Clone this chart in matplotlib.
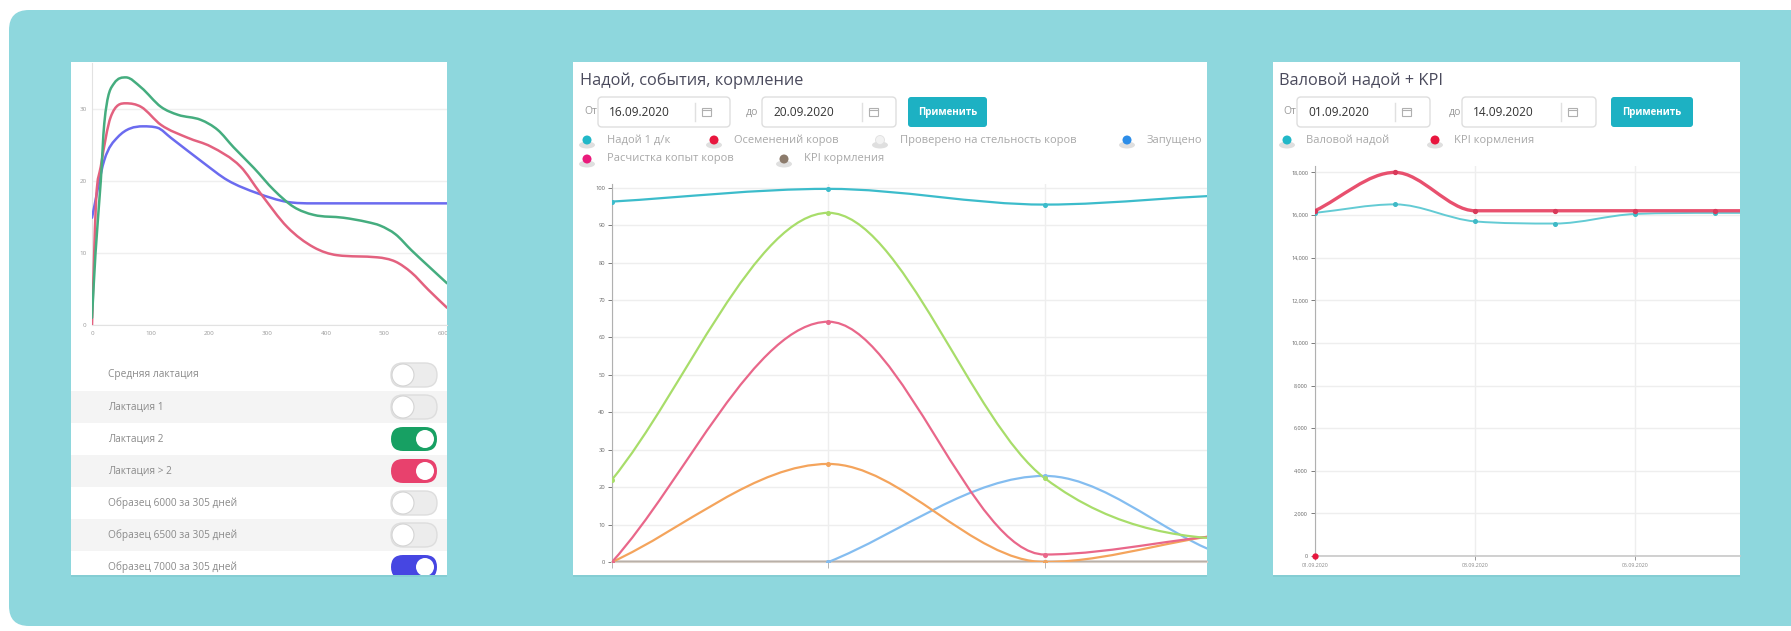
import numpy as np
import matplotlib
matplotlib.use("Agg")
import matplotlib.pyplot as plt
from matplotlib.patches import Rectangle, FancyBboxPatch, Circle, Ellipse, PathPatch
from matplotlib.path import Path

plt.rcParams['font.family'] = ['Open Sans', 'DejaVu Sans']

# ---------------- data ----------------
# left panel: lactation curves (day, kg)
green_days = [0, 6, 15, 21, 38, 58, 84, 118, 147, 186, 215, 242, 277, 311, 345, 379, 430, 471, 493, 519, 546, 575, 607]
green_vals = [1, 10, 20, 28, 33.6, 34.4, 33, 30.3, 29.2, 28.5, 27.1, 24.7, 21.8, 18.75, 16.4, 15.3, 14.9, 14.3, 13.8, 12.6, 10.4, 8.2, 5.8]
red_days = [0, 3, 7, 15, 32, 58, 84, 118, 164, 203, 254, 288, 334, 379, 419, 488, 519, 546, 575, 607]
red_vals = [0, 8, 17.4, 22, 28.9, 30.8, 30.3, 27.8, 26, 24.8, 22, 18.3, 13.6, 10.8, 9.7, 9.4, 8.8, 7.3, 4.9, 2.4]
blue_days = [0, 21, 44, 87, 112, 135, 191, 232, 283, 334, 379, 450, 607]
blue_vals = [14.9, 22.9, 26.1, 27.6, 27.4, 26, 22.5, 20.1, 18.3, 17.1, 16.9, 16.9, 16.9]
left_xticks = [0, 100, 200, 300, 400, 500, 600]
left_yticks = [0, 10, 20, 30]
toggle_labels = ["Средняя лактация", "Лактация 1", "Лактация 2", "Лактация > 2",
                 "Образец 6000 за 305 дней", "Образец 6500 за 305 дней", "Образец 7000 за 305 дней"]
toggle_on = [False, False, True, True, False, False, True]
toggle_colors = ['#e6e6e6', '#e6e6e6', '#17a063', '#e8416d', '#e6e6e6', '#e6e6e6', '#4646e2']

# middle panel
mid_title = "Надой, события, кормление"
mid_from, mid_to = "16.09.2020", "20.09.2020"
mid_legend_row1 = [("Надой 1 д/к", '#22b8c8'), ("Осеменений коров", '#e8163e'),
                   ("Проверено на стельность коров", '#f2f2f2'), ("Запущено", '#2c8de8')]
mid_legend_row2 = [("Расчистка копыт коров", '#ea1b7c'), ("KPI кормления", '#8c7b6c')]
mid_x = [0, 1, 2, 3, 4]
line_cyan = [96.3, 99.7, 95.5, 98.2, 97]
line_green = [22, 93.3, 22.4, 5.9, 10]
line_red = [0, 64.2, 2.0, 7.6, 5]
line_orange = [0, 26.2, 0, 8, 5]
line_blue = [np.nan, 0, 23, 0, 5]
line_gray = [0, 0, 0, 0, 0]
mid_yticks = [0, 10, 20, 30, 40, 50, 60, 70, 80, 90, 100]

# right panel
right_title = "Валовой надой + KPI"
right_from, right_to = "01.09.2020", "14.09.2020"
right_legend = [("Валовой надой", '#22b8c8'), ("KPI кормления", '#e8163e')]
right_x = [0, 1, 2, 3, 4, 5, 6]
valovoy = [16100, 16500, 15700, 15600, 16050, 16100, 16100]
kpi = [16200, 18000, 16200, 16200, 16200, 16200, 16200]
right_yticks = [0, 2000, 4000, 6000, 8000, 10000, 12000, 14000, 16000, 18000]
right_xticks = [0, 2, 4]
right_xlabels = ["01.09.2020", "03.09.2020", "05.09.2020"]

# ---------------- helpers ----------------
W, H = 1791, 631
fig = plt.figure(figsize=(W / 100, H / 100), dpi=100)
bg = fig.add_axes([0, 0, 1, 1])
bg.set_xlim(0, W)
bg.set_ylim(H, 0)
bg.axis('off')


def px_axes(x0, y0, x1, y1):
    ax = fig.add_axes([x0 / W, 1 - y1 / H, (x1 - x0) / W, (y1 - y0) / H])
    ax.set_facecolor('none')
    return ax


def smooth(ax, xs, ys, color, lw, z=3):
    """monotone cubic curve through the data points (Chart.js 'monotone' style)"""
    pts = np.array([(x, y) for x, y in zip(xs, ys) if not np.isnan(y)], float)
    x, y = pts[:, 0], pts[:, 1]
    n = len(pts)
    d = np.diff(y) / np.diff(x)
    m = np.zeros(n)
    m[0], m[-1] = d[0], d[-1]
    for i in range(1, n - 1):
        m[i] = 0 if d[i - 1] * d[i] <= 0 else (d[i - 1] + d[i]) / 2
    for i in range(n - 1):
        if d[i] == 0:
            m[i] = m[i + 1] = 0
            continue
        a, b = m[i] / d[i], m[i + 1] / d[i]
        s = a * a + b * b
        if s > 9:
            tau = 3 / np.sqrt(s)
            m[i], m[i + 1] = a * tau * d[i], b * tau * d[i]
    verts = [pts[0]]
    codes = [Path.MOVETO]
    for i in range(n - 1):
        dx = (x[i + 1] - x[i]) / 3
        verts += [(x[i] + dx, y[i] + m[i] * dx), (x[i + 1] - dx, y[i + 1] - m[i + 1] * dx), pts[i + 1]]
        codes += [Path.CURVE4] * 3
    ax.add_patch(PathPatch(Path(verts, codes), fill=False, edgecolor=color, lw=lw,
                           transform=ax.transData, zorder=z, capstyle='round'))


def rbox(x0, y0, x1, y1, r, fc, ec='none', lw=1, z=2, clip=None):
    p = FancyBboxPatch((x0, y0), x1 - x0, y1 - y0, boxstyle=f"round,pad=0,rounding_size={r}",
                       fc=fc, ec=ec, lw=lw, zorder=z)
    bg.add_patch(p)
    if clip is not None:
        p.set_clip_path(clip)
    return p


# ---------------- background ----------------
rbox(9, 10, W + 40, 626, 20, '#8ed7dd', z=0)

cards = {'left': (71, 62, 447, 575), 'mid': (573, 62, 1207, 575), 'right': (1273, 62, 1740, 575)}
clips = {}
for k, (x0, y0, x1, y1) in cards.items():
    bg.add_patch(Rectangle((x0, y0 + 2), x1 - x0, y1 - y0, fc='#84cdd3', ec='none', zorder=0.5))
    r = Rectangle((x0, y0), x1 - x0, y1 - y0, fc='white', ec='none', zorder=1)
    bg.add_patch(r)
    clips[k] = Rectangle((x0, y0), x1 - x0, y1 - y0, transform=bg.transData)

# ---------------- left card ----------------
row_y0, row_h = 375, 32
for i, (lab, on, col) in enumerate(zip(toggle_labels, toggle_on, toggle_colors)):
    cy = row_y0 + i * row_h
    if i % 2 == 1:
        b = Rectangle((71, cy - row_h / 2), 376, row_h, fc='#f4f4f4', ec='none', zorder=1.5)
        bg.add_patch(b)
        b.set_clip_path(clips['left'])
    bg.text(108, cy, lab, fontsize=7.3, color='#8a8a8a', va='center', ha='left', zorder=3)
    cx, tw, th = 414, 46, 24
    if on:
        rbox(cx - tw / 2, cy - th / 2, cx + tw / 2, cy + th / 2, th / 2, col, z=3, clip=clips['left'])
        k = Circle((cx + tw / 2 - th / 2, cy), th / 2 - 3, fc='white', ec='none', zorder=4)
    else:
        rbox(cx - tw / 2, cy - th / 2, cx + tw / 2, cy + th / 2, th / 2, '#ececec', ec='#dddddd', z=3,
             clip=clips['left'])
        k = Circle((cx - tw / 2 + th / 2, cy), th / 2 - 1, fc='white', ec='#d4d4d4', lw=0.8, zorder=4)
    bg.add_patch(k)
    k.set_clip_path(clips['left'])

axL = px_axes(92, 63, 447, 325)
axL.set_xlim(0, 607)
axL.set_ylim(0, 36.4)
smooth(axL, blue_days, blue_vals, '#6b6bef', 1.8)
smooth(axL, red_days, red_vals, '#e3617f', 1.8)
smooth(axL, green_days, green_vals, '#45ad7f', 1.8)
axL.set_xticks(left_xticks)
axL.set_yticks(left_yticks)
axL.set_xticklabels([str(v) for v in left_xticks])
axL.tick_params(labelsize=4.5, colors='#9a9a9a', length=0, pad=4)
axL.grid(axis='y', color='#efefef', lw=1)
axL.set_axisbelow(True)
for s in ['top', 'right']:
    axL.spines[s].set_visible(False)
axL.spines['left'].set_color('#e2e2e2')
axL.spines['bottom'].set_color('#e2e2e2')
for lbl in axL.get_xticklabels():
    lbl.set_clip_path(clips['left'])


# ---------------- date/filter header ----------------
def header(x_title, title, x_from, box1, sep1, d1, x_to, box2, sep2, d2, btn):
    bg.text(x_title, 81, title, fontsize=11.8, color='#4a4a5c', va='center', ha='left', zorder=3)
    bg.text(x_from, 112, "От", fontsize=7.5, color='#9a9a9a', va='center', ha='left', zorder=3)
    bg.text(x_to, 112, "до", fontsize=7.5, color='#9a9a9a', va='center', ha='left', zorder=3)
    for (bx0, bx1), sx, dt in [(box1, sep1, d1), (box2, sep2, d2)]:
        rbox(bx0, 97, bx1, 127, 4, 'white', ec='#dedede', lw=1, z=2)
        bg.plot([sx, sx], [103, 121], color='#e0e0e0', lw=1, zorder=3)
        bg.text(bx0 + 11, 112, dt, fontsize=8.6, color='#333333', va='center', ha='left', zorder=3)
        ix = sx + 11
        bg.add_patch(Rectangle((ix - 4, 108), 9, 8, fc='none', ec='#b0b0b0', lw=0.8, zorder=3))
        bg.plot([ix - 4, ix + 5], [110, 110], color='#b0b0b0', lw=0.8, zorder=3)
    rbox(btn[0], 97, btn[1], 127, 3, '#1db1c3', z=2)
    bg.text((btn[0] + btn[1]) / 2, 112, "Применить", fontsize=7, color='white', fontweight='bold',
            va='center', ha='center', zorder=3)


def legend_item(x, y, text, col, tx):
    bg.add_patch(Ellipse((x, y + 5), 16, 7, fc='#d8d8d8', ec='none', alpha=0.8, zorder=2))
    bg.add_patch(Circle((x, y), 4.5, fc=col, ec='#e0e0e0' if col == '#f2f2f2' else 'none', lw=0.6, zorder=3))
    bg.text(tx, y, text, fontsize=8, color='#a8a8a8', va='center', ha='left', zorder=3)


header(580, mid_title, 584, (598, 730), 695, mid_from, 746, (762, 896), 862, mid_to, (908, 987))
for (lab, col), mx in zip(mid_legend_row1, [587, 714, 880, 1127]):
    legend_item(mx, 140, lab, col, mx + 20)
for (lab, col), mx in zip(mid_legend_row2, [587, 784]):
    legend_item(mx, 159, lab, col, mx + 20)

header(1279, right_title, 1283, (1297, 1430), 1395, right_from, 1449, (1462, 1596), 1561, right_to,
       (1611, 1693))
for (lab, col), mx in zip(right_legend, [1287, 1435]):
    legend_item(mx, 140, lab, col, mx + 19)

# ---------------- middle chart ----------------
axM = px_axes(612, 184, 1207, 562)
axM.set_xlim(0, 2.75)
axM.set_ylim(0, 101)
for ys, col, lw in [(line_gray, '#b9b0a8', 2.2), (line_blue, '#84bdf0', 1.6), (line_orange, '#f4a45c', 1.6),
                    (line_red, '#e9678a', 1.6), (line_green, '#a8dd6a', 1.6), (line_cyan, '#3cbccb', 1.6)]:
    smooth(axM, mid_x, ys, col, lw)
    axM.plot(mid_x, ys, 'o', ms=2.6, color=col, zorder=4, clip_on=True)
axM.set_yticks(mid_yticks)
axM.set_xticks([0, 1, 2])
axM.set_xticklabels([])
axM.tick_params(axis='y', labelsize=4.2, colors='#666666', length=3, width=0.6, pad=2)
axM.tick_params(axis='x', length=4, width=0.6, colors='#aaaaaa')
axM.grid(color='#eeeeee', lw=1)
axM.set_axisbelow(True)
for s in ['top', 'right']:
    axM.spines[s].set_visible(False)
axM.spines['left'].set_color('#b0b0b0')
axM.spines['bottom'].set_color('#d8d0c8')
axM.spines['bottom'].set_linewidth(1.5)

# ---------------- right chart ----------------
axR = px_axes(1315, 166, 1740, 556)
axR.set_xlim(0, 5.31)
axR.set_ylim(0, 18300)
smooth(axR, right_x, valovoy, '#63cbd4', 1.4)
axR.plot(right_x, valovoy, 'o', ms=2.6, color='#3fb9c6', zorder=4)
smooth(axR, right_x, kpi, '#e8506e', 2.4)
axR.plot(right_x, kpi, 'o', ms=2.8, color='#d83a5a', zorder=5)
axR.plot([0], [0], 'o', ms=3.5, color='#e8163e', zorder=5, clip_on=False)
axR.set_yticks(right_yticks)
axR.set_yticklabels([f"{v:,}" for v in right_yticks])
axR.set_xticks(right_xticks)
axR.set_xticklabels(right_xlabels)
axR.tick_params(axis='y', labelsize=4.0, colors='#666666', length=3, width=0.6, pad=2)
axR.tick_params(axis='x', labelsize=3.8, colors='#888888', length=3, width=0.6, pad=2)
axR.grid(color='#eeeeee', lw=1)
axR.set_axisbelow(True)
for s in ['top', 'right']:
    axR.spines[s].set_visible(False)
axR.spines['left'].set_color('#b0b0b0')
axR.spines['bottom'].set_color('#c8c8c8')
axR.spines['bottom'].set_linewidth(1.2)

fig.savefig("out.png", dpi=100)
